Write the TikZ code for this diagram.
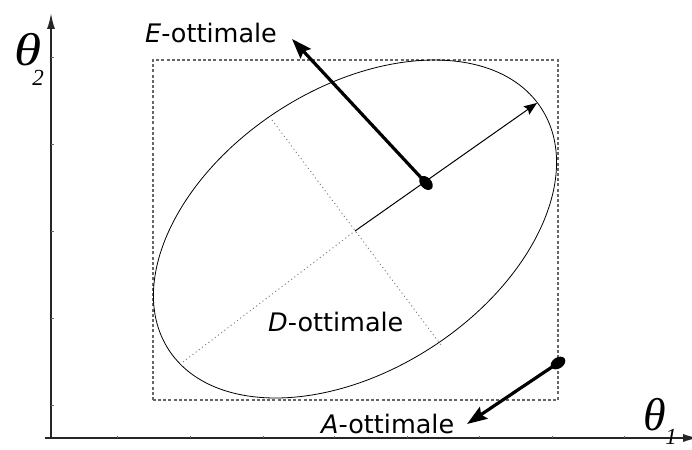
\documentclass[tikz,border=0pt]{standalone}
\usepackage{fontspec}
\setmainfont{DejaVu Sans}
\newfontfamily\thetafont{Liberation Serif}
\usetikzlibrary{arrows.meta}
\begin{document}
\begin{tikzpicture}[x=1pt,y=1pt,
  lbl/.style={font=\fontsize{25.5}{30}\selectfont, inner sep=0pt, anchor=base west},
  thetalbl/.style={font=\thetafont\itshape\fontsize{46}{48}\selectfont, inner sep=0pt},
  sublbl/.style={font=\thetafont\itshape\fontsize{23}{26}\selectfont, inner sep=0pt},
  axisline/.style={draw=black!85, line width=1.8pt},
  tick/.style={draw=black!60, line width=0.8pt},
  boxline/.style={draw=black!60, line width=1.2pt, dash pattern=on 3pt off 2.2pt},
  axdot/.style={draw=black!55, line width=0.9pt, dash pattern=on 1pt off 3pt},
  bigarrow/.style={line width=3.2pt, -{Stealth[length=20pt,width=14pt,inset=3pt]}},
  dotmark/.style={fill=black}
]
\useasboundingbox (0,0) rectangle (692,449);
\clip (0,0) rectangle (692,449);

% axes
\coordinate (O) at (51,11);
\coordinate (Ytop) at (51,436);
\coordinate (Xstart) at (45,11);
\coordinate (Xend) at (699,11);
\draw[axisline, -{Latex[length=16pt,width=8pt]}] (O) -- (Ytop);
\draw[axisline, -{Latex[length=16pt,width=8pt]}] (Xstart) -- (Xend);
\foreach \y in {392,305,218,131,44} \draw[tick] (51,\y) -- (53.5,\y);
\foreach \x in {117,190,263,334,407,479,552,624} \draw[tick] (\x,11) -- (\x,13.5);

% axis labels
\node[thetalbl, xscale=1.2] (t2) at (28,399) {θ};
\node[sublbl] (s2) at (38,371) {2};
\node[thetalbl] (t1) at (655,34) {θ};
\node[sublbl] (s1) at (671,12) {1};

% dashed bounding box
\draw[boxline] (153,49) rectangle (558,389);

% ellipse
\coordinate (EC) at (355,220);
\draw[line width=0.8pt, rotate around={32.9:(EC)}] (EC) ellipse (222 and 141);

% ellipse axes
\coordinate (C) at (355,218);
\coordinate (ML) at (183,87);
\coordinate (MT) at (537,346);
\coordinate (m1) at (272,329);
\coordinate (m2) at (441,104);
\draw[axdot] (ML) -- (C);
\draw[axdot] (m1) -- (m2);
\draw[line width=1pt, -{Stealth[length=13pt,width=10pt,inset=2pt]}] (C) -- (MT);

% E-ottimale
\coordinate (Edot) at (426,266);
\coordinate (Etip) at (292,410);
\draw[bigarrow] (Edot) -- (Etip);
\fill[dotmark, rotate around={132.7:(Edot)}] (Edot) ellipse (8 and 5.5);
\node[lbl] (Elab) at (145,406) {\textit{E}-ottimale};

% D-ottimale
\node[lbl] (Dlab) at (268,117) {\textit{D}-ottimale};

% A-ottimale
\coordinate (Adot) at (558,86);
\coordinate (Atip) at (467,25);
\draw[bigarrow] (Adot) -- (Atip);
\fill[dotmark, rotate around={213.7:(Adot)}] (Adot) ellipse (8 and 5.5);
\node[lbl] (Alab) at (321,16) {\textit{A}-ottimale};
\end{tikzpicture}
\end{document}
